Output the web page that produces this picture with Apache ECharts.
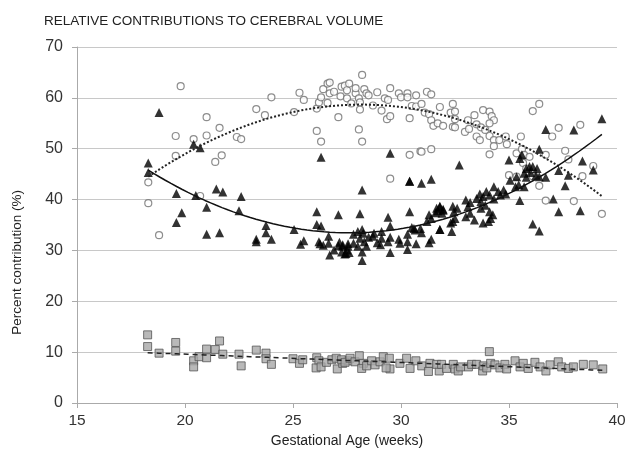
<!DOCTYPE html>
<html><head><meta charset="utf-8">
<script src="https://cdn.jsdelivr.net/npm/echarts@6/dist/echarts.min.js"></script>
<style>html,body{margin:0;padding:0;background:#fff}#c{width:631px;height:464px}</style>
</head><body><div id="c"></div>
<script>
var titleText = "RELATIVE CONTRIBUTIONS TO CEREBRAL VOLUME";
var xAxisName = "Gestational Age (weeks)";
var yAxisName = "Percent contribution (%)";
var xTicks = [15,20,25,30,35,40];
var yTicks = [0,10,20,30,40,50,60,70];

// open circles (weeks, percent)
var circleAge = [19.8,21.0,23.3,19.57,20.4,21.0,21.6,22.4,22.6,19.57,21.7,21.4,18.3,20.7,18.3,18.8,
24.0,23.7,25.05,25.3,25.5,26.1,26.3,26.1,26.2,26.3,26.4,26.6,26.7,26.7,26.6,26.9,27.1,27.25,27.4,27.5,27.6,27.2,27.5,27.7,27.9,27.9,28.05,28.1,28.1,28.2,28.3,28.4,28.5,28.7,28.9,28.05,28.2,29.1,29.25,29.4,29.5,29.35,29.5,29.9,30.0,30.3,30.3,30.4,30.5,30.7,30.7,29.5,30.4,30.9,
31.2,31.4,30.95,31.1,31.3,31.4,31.5,31.7,31.95,31.8,32.4,32.3,32.5,32.4,32.5,32.5,32.96,33.1,33.4,33.5,33.15,33.8,34.1,34.2,34.3,34.1,33.7,33.9,33.5,33.65,34.1,34.3,34.55,34.85,34.9,34.3,34.1,30.95,31.4,35.55,35.35,35.6,35.7,35.95,36.1,36.4,35.0,35.35,35.65,35.8,36.1,36.4,36.7,36.7,37.0,37.3,38.3,37.6,37.75,38.0,38.4,38.9,39.3];
var circleVal = [62.3,56.2,57.8,52.5,51.9,52.6,54.1,52.3,51.9,48.6,48.7,47.4,43.4,40.7,39.3,33.0,
60.1,56.6,57.2,61.0,59.6,53.5,51.4,57.9,59.1,60.1,61.7,62.8,63.0,60.9,59.0,61.2,56.2,62.2,62.4,61.5,62.8,60.3,59.9,58.9,60.9,61.9,59.9,59.1,57.7,64.5,61.7,60.9,60.5,58.5,61.1,53.8,51.4,57.5,59.9,59.6,61.9,55.8,56.4,60.9,60.1,60.9,60.1,56.0,58.4,60.5,58.3,44.1,48.8,49.5,
61.2,60.7,58.8,57.1,56.8,55.6,54.5,55.0,54.5,58.2,58.8,57.1,57.3,54.3,54.2,55.8,53.3,55.6,56.6,54.8,53.9,57.6,57.3,56.4,55.6,55.0,54.2,53.7,52.4,51.7,52.5,51.7,51.7,52.4,50.9,50.5,48.9,49.4,49.9,52.4,49.1,49.9,48.8,48.4,57.4,58.8,44.8,44.5,47.2,46.1,44.6,42.7,39.8,48.8,52.4,54.1,54.7,49.6,47.9,39.7,44.6,46.6,37.2];

// filled triangles
var triAge = [18.8,20.4,20.7,18.3,18.3,19.6,20.5,21.45,21.75,22.6,21.0,22.5,19.85,19.6,21.0,21.6,23.3,
26.3,29.5,28.2,30.4,26.1,27.1,28.1,29.4,30.4,23.75,23.75,25.05,26.1,26.3,
23.3,24.0,25.35,25.5,26.2,26.25,26.4,26.65,26.65,26.7,26.9,27.15,27.1,27.3,27.5,27.4,27.55,
29.5,31.3,31.65,31.8,31.95,31.6,31.2,31.8,30.5,30.65,30.95,30.3,29.1,28.75,28.2,28.25,27.8,28.0,28.1,28.5,29.1,29.5,29.4,29.9,29.95,30.3,30.3,30.7,31.3,31.4,27.8,27.55,27.3,27.45,28.0,28.2,28.2,28.4,28.3,28.9,29.05,29.5,27.25,27.6,28.7,
39.3,36.7,38.0,36.4,38.4,38.9,35.0,35.5,35.6,35.8,35.95,36.1,36.3,35.7,36.0,36.25,35.8,36.4,36.7,37.3,37.75,37.6,37.05,37.3,38.3,36.1,36.4,35.5,35.3,35.45,35.7,32.7,30.4,30.95,31.4,
34.3,34.5,34.85,34.6,33.95,34.1,34.3,33.65,33.8,33.5,33.0,33.2,33.1,33.7,33.9,33.7,34.1,34.25,34.15,34.05,32.4,32.6,32.45,32.5,31.8,31.95,31.7,31.9,31.4,32.3,32.4,33.4,33.8,33.0,33.2,31.8,32.35,30.9,30.6,34.75,35.05,35.35];
var triVal = [57.1,50.9,50.2,47.2,45.3,41.2,40.8,42.1,41.5,40.6,38.5,37.8,37.4,35.5,33.2,33.5,32.2,
48.3,49.1,41.9,43.6,37.6,37.0,37.2,36.5,37.6,34.9,33.5,34.1,35.1,34.8,
31.7,32.2,31.2,31.9,31.7,31.3,31.0,32.8,31.4,29.1,30.1,31.6,30.9,30.8,30.1,29.3,31.3,
34.8,37.0,38.3,38.6,38.1,37.4,35.7,34.1,34.5,34.0,33.5,33.2,33.7,33.4,34.1,33.4,33.2,33.7,32.4,32.6,32.4,32.6,31.7,32.2,31.4,31.7,30.2,31.3,31.5,32.2,31.4,30.8,31.1,29.4,30.8,29.7,28.0,30.8,31.7,31.5,31.1,29.6,29.7,29.6,32.8,
55.9,53.8,53.7,49.9,47.6,45.8,47.8,48.1,48.8,46.1,46.5,46.5,46.1,45.2,45.3,44.8,44.4,44.5,44.4,45.7,44.8,42.7,40.1,37.6,37.8,35.2,33.8,39.8,42.5,42.9,42.5,46.8,43.6,43.2,44.0,
42.5,41.6,41.1,40.9,41.6,40.9,40.1,41.1,40.6,40.2,39.9,39.4,38.6,39.6,38.9,38.3,37.6,37.0,36.3,35.7,38.7,38.3,37.6,36.3,38.7,37.9,37.8,37.3,36.3,35.4,35.7,36.0,35.4,36.6,37.3,34.1,33.7,34.3,34.3,41.9,43.8,44.5];

// gray squares
var sqAge = [18.27,18.27,18.8,19.57,19.57,20.4,20.4,20.65,21.0,21.0,21.4,21.6,21.75,22.5,22.6,23.3,23.75,23.75,24.0,25.0,25.3,25.45,26.1,26.2,26.07,26.3,26.55,26.8,27.0,27.05,27.3,27.55,
27.25,27.41,27.64,27.87,28.07,28.26,28.18,28.41,28.64,28.8,29.03,29.18,29.46,29.49,29.31,29.95,30.26,30.42,30.69,30.96,31.34,31.27,31.77,31.65,31.88,32.11,32.42,32.5,32.65,32.76,33.12,33.27,33.5,33.78,33.81,33.97,34.15,34.09,34.35,34.58,34.81,34.89,35.28,35.51,35.66,35.89,36.2,36.44,36.71,36.9,37.28,37.44,37.75,37.98,38.44,38.9,39.34];
var sqVal = [13.4,11.1,9.8,11.9,10.2,8.3,7.1,9.1,10.6,8.9,10.5,12.2,9.6,9.6,7.3,10.4,9.8,8.7,7.6,8.7,7.8,8.5,8.9,8.3,6.9,7.1,8.0,8.5,8.8,6.7,7.8,8.3,
8.5,8.0,8.8,8.1,9.3,7.8,6.8,7.3,8.3,7.5,8.1,9.1,8.8,6.7,6.9,7.8,8.8,6.8,8.3,7.3,7.8,6.2,6.3,7.6,7.6,6.8,7.6,6.7,6.3,7.1,7.1,7.6,7.6,6.3,7.3,6.9,7.8,10.1,7.5,6.9,7.6,6.7,8.3,7.1,7.8,6.8,8.0,7.1,6.3,7.5,8.1,7.1,6.8,7.1,7.6,7.5,6.7];

function zip(a,b){return a.map(function(v,i){return [v,b[i]];});}
function polyfit(xs, ys, deg){
  var n = deg+1, A = [], B = [];
  for (var i=0;i<n;i++){A.push(new Array(n).fill(0));B.push(0);}
  for (var k=0;k<xs.length;k++){
    for (var i=0;i<n;i++){
      B[i]+=ys[k]*Math.pow(xs[k],i);
      for (var j=0;j<n;j++) A[i][j]+=Math.pow(xs[k],i+j);
    }
  }
  for (var i=0;i<n;i++){
    var p=i; for (var r=i+1;r<n;r++) if(Math.abs(A[r][i])>Math.abs(A[p][i])) p=r;
    var t=A[i];A[i]=A[p];A[p]=t; var tb=B[i];B[i]=B[p];B[p]=tb;
    for (var r=i+1;r<n;r++){var f=A[r][i]/A[i][i]; for (var c=i;c<n;c++) A[r][c]-=f*A[i][c]; B[r]-=f*B[i];}
  }
  var coef=new Array(n).fill(0);
  for (var i=n-1;i>=0;i--){var s=B[i]; for (var c=i+1;c<n;c++) s-=A[i][c]*coef[c]; coef[i]=s/A[i][i];}
  return coef;
}
function trend(xs, ys, deg){
  var c = polyfit(xs, ys, deg);
  var lo = Math.min.apply(null, xs), hi = Math.max.apply(null, xs), out = [];
  for (var i=0;i<=80;i++){
    var x = lo + (hi-lo)*i/80, y = 0;
    for (var j=0;j<c.length;j++) y += c[j]*Math.pow(x,j);
    out.push([x,y]);
  }
  return out;
}

var chart = echarts.init(document.getElementById('c'), null, {renderer:'canvas'});
var font = "Liberation Sans, Arial, sans-serif";
chart.setOption({
  animation:false,
  backgroundColor:'#fff',
  title:{text:titleText, left:39, top:9, textStyle:{fontFamily:font, fontSize:13.5, fontWeight:'normal', color:'#222'}},
  graphic:[{type:'text', left:10, top:190, rotation:Math.PI/2,
    style:{text:yAxisName, fontFamily:font, fontSize:13.5, fill:'#222'}}],
  grid:{left:77, right:14, top:47, bottom:61},
  xAxis:{type:'value', min:15, max:40, interval:5,
    name:xAxisName, nameLocation:'middle', nameGap:28,
    nameTextStyle:{fontFamily:font, fontSize:14, color:'#222'},
    axisLine:{show:true, lineStyle:{color:'#aaa'}},
    axisTick:{show:true, length:5, lineStyle:{color:'#aaa'}},
    axisLabel:{fontFamily:font, fontSize:15.5, color:'#333', margin:10,
      formatter:function(v){return xTicks.indexOf(v)>=0 ? String(v) : '';}},
    splitLine:{show:false}},
  yAxis:{type:'value', min:0, max:70, interval:10,
    axisLine:{show:true, lineStyle:{color:'#aaa'}},
    axisTick:{show:true, length:5, lineStyle:{color:'#aaa'}},
    axisLabel:{fontFamily:font, fontSize:16, color:'#333', margin:14,
      formatter:function(v){return yTicks.indexOf(v)>=0 ? String(v) : '';}},
    splitLine:{show:true, lineStyle:{color:'#c8c8c8', width:1}}},
  series:[
    {type:'scatter', data:zip(circleAge,circleVal), symbol:'circle', symbolSize:7,
     itemStyle:{color:'#fff', borderColor:'#707070', borderWidth:1.2}, silent:true},
    {type:'scatter', data:zip(sqAge,sqVal), symbol:'rect', symbolSize:8,
     itemStyle:{color:'#a8a8a8', borderColor:'#555', borderWidth:1}, silent:true},
    {type:'scatter', data:zip(triAge,triVal), symbol:'triangle', symbolSize:9,
     itemStyle:{color:'#000'}, silent:true},
    {type:'line', data:trend(circleAge,circleVal,2), showSymbol:false, smooth:false,
     lineStyle:{color:'#222', width:2, type:[2,2]}, silent:true},
    {type:'line', data:trend(triAge,triVal,2), showSymbol:false,
     lineStyle:{color:'#111', width:1.5}, silent:true},
    {type:'line', data:trend(sqAge,sqVal,1), showSymbol:false,
     lineStyle:{color:'#222', width:1.5, type:[5,4]}, silent:true}
  ]
});
</script></body></html>
